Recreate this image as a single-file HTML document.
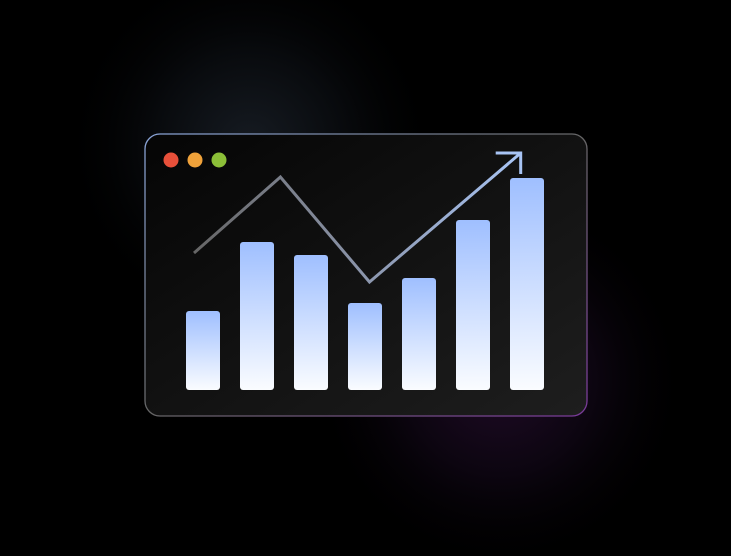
<!DOCTYPE html>
<html><head><meta charset="utf-8"><style>
html,body{margin:0;padding:0;background:#000;}
body{width:731px;height:551px;overflow:hidden;font-family:"Liberation Sans",sans-serif;}
</style></head><body>
<svg width="731" height="551" viewBox="0 0 731 551">
<defs>
<radialGradient id="glowBlue" cx="250" cy="145" r="190" gradientUnits="userSpaceOnUse">
<stop offset="0" stop-color="#161b22"/><stop offset="0.5" stop-color="#080a0d"/><stop offset="1" stop-color="#000" stop-opacity="0"/></radialGradient>
<radialGradient id="glowPurple" cx="500" cy="380" r="190" gradientUnits="userSpaceOnUse">
<stop offset="0" stop-color="#1f0b26"/><stop offset="0.5" stop-color="#0c0510"/><stop offset="1" stop-color="#000" stop-opacity="0"/></radialGradient>
<linearGradient id="winFill" x1="0" y1="0" x2="1" y2="1"><stop offset="0" stop-color="#050505"/><stop offset="1" stop-color="#1e1e1e"/></linearGradient>
<linearGradient id="winStroke" x1="0" y1="0" x2="1" y2="1"><stop offset="0" stop-color="#8aa4d8"/><stop offset="0.5" stop-color="#666"/><stop offset="1" stop-color="#7a3a9a"/></linearGradient>
<linearGradient id="barFill" x1="0" y1="0" x2="0" y2="1"><stop offset="0" stop-color="#9fbfff"/><stop offset="1" stop-color="#fafcff"/></linearGradient>
<linearGradient id="lineGrad" x1="194" y1="0" x2="518" y2="0" gradientUnits="userSpaceOnUse"><stop offset="0" stop-color="#666"/><stop offset="0.5" stop-color="#8a93a8"/><stop offset="1" stop-color="#a8c4f4"/></linearGradient>
</defs>
<rect width="731" height="551" fill="#000"/>
<rect width="731" height="551" fill="url(#glowBlue)"/>
<rect width="731" height="551" fill="url(#glowPurple)"/>
<rect x="145" y="134" width="442" height="282" rx="15" fill="url(#winFill)" stroke="url(#winStroke)" stroke-width="1.3"/>
<circle cx="171" cy="160" r="7.5" fill="#e8503a"/>
<circle cx="195" cy="160" r="7.5" fill="#f0a23a"/>
<circle cx="219" cy="160" r="7.5" fill="#8cbf38"/>
<g id="bars"></g>
<g id="trend"></g>
</svg>
<script>
const categories = ["b1","b2","b3","b4","b5","b6","b7"];
const barValues = [79,148,135,87,112,170,212];
const lineValues = [137,213,108,237];
const linePositions = [0,1.6,3.25,6.05];
const NS="http://www.w3.org/2000/svg";
const baseY=390, barW=34, x0=186, step=54;
function xScale(i){return x0+i*step;}
function yScale(v){return baseY-v;}
const gb=document.getElementById('bars');
barValues.forEach((v,i)=>{
  const r=document.createElementNS(NS,'rect');
  r.setAttribute('x',xScale(i));r.setAttribute('y',yScale(v));
  r.setAttribute('width',barW);r.setAttribute('height',v);
  r.setAttribute('rx',3);r.setAttribute('fill','url(#barFill)');
  
  
  gb.appendChild(r);
});
const gt=document.getElementById('trend');
const pts=lineValues.map((v,i)=>[xScale(0)+8+linePositions[i]*step,yScale(v)]);
const pl=document.createElementNS(NS,'polyline');
pl.setAttribute('points',pts.map(p=>p.join(',')).join(' '));
pl.setAttribute('fill','none');pl.setAttribute('stroke','url(#lineGrad)');
pl.setAttribute('stroke-width','3');pl.setAttribute('stroke-linejoin','miter');


gt.appendChild(pl);
const e=pts[pts.length-1];
const ah=document.createElementNS(NS,'polyline');
ah.setAttribute('points',(e[0]-25)+','+e[1]+' '+e[0]+','+e[1]+' '+e[0]+','+(e[1]+21));
ah.setAttribute('fill','none');ah.setAttribute('stroke','#a8c4f4');ah.setAttribute('stroke-width','3');


gt.appendChild(ah);
</script>
</body></html>
